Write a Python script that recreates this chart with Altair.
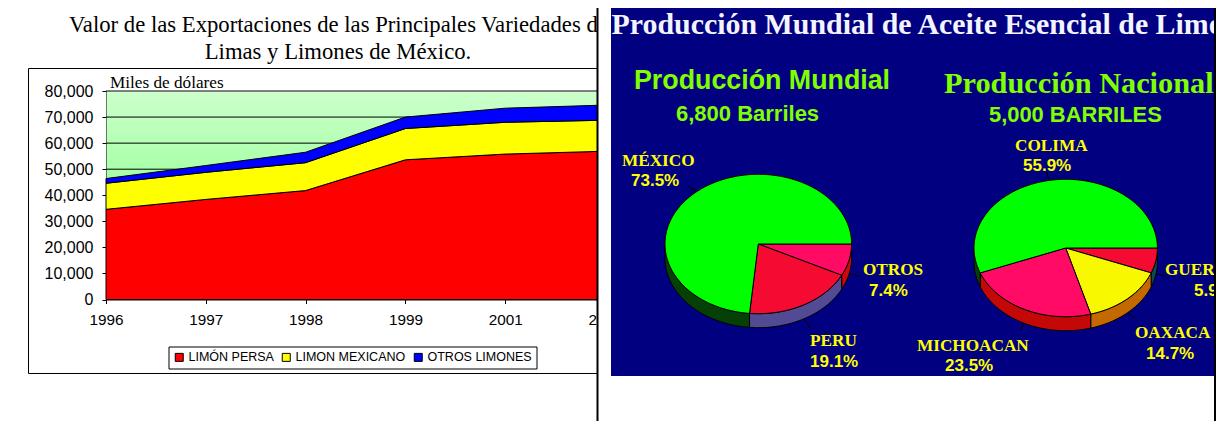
import math
import altair as alt

# ---- data ----
years = ["1996", "1997", "1998", "1999", "2001", "2002"]
persa = [34600, 38400, 41800, 53600, 55800, 56900]
mexicano = [10000, 10400, 10700, 12000, 12200, 11900]
otros = [1800, 2600, 4000, 4400, 5400, 5800]
series_names = ["LIMÓN PERSA", "LIMON MEXICANO", "OTROS LIMONES"]
series_colors = ["#ff0000", "#ffff00", "#0000ff"]
grid_values = [10000, 20000, 30000, 40000, 50000, 60000, 70000, 80000]

mundial_names = ["OTROS", "PERU", "MÉXICO"]
mundial_shares = [7.4, 19.1, 73.5]
mundial_top = ["#ff0a64", "#f50a32", "#00ff00"]
mundial_side = ["#cc0808", "#524a92", "#064006"]

nacional_names = ["GUERRERO", "OAXACA", "MICHOACAN", "COLIMA"]
nacional_shares = [5.9, 14.7, 23.5, 55.9]
nacional_top = ["#f50a32", "#f8f800", "#ff0a64", "#00ff00"]
nacional_side = ["#0c4a50", "#c46800", "#c40808", "#064006"]

W, H = 1208, 413
OX, OY = 8, 8
one = alt.Data(values=[{"a": 1}])


def rect(x1, y1, x2, y2, fill, stroke=None, sw=1):
    kw = {"fill": fill}
    if stroke:
        kw.update(stroke=stroke, strokeWidth=sw)
    return alt.Chart(one).mark_rect(**kw).encode(
        x=alt.value(x1 - OX), x2=alt.value(x2 - OX),
        y=alt.value(y1 - OY), y2=alt.value(y2 - OY))


def line(x1, y1, x2, y2):
    return alt.Chart(one).mark_rule(color="black", strokeWidth=1).encode(
        x=alt.value(x1 - OX), x2=alt.value(x2 - OX),
        y=alt.value(y1 - OY), y2=alt.value(y2 - OY))


def txt(s, x, y, size, color="black", font="Liberation Serif", weight="normal", align="left"):
    return alt.Chart(one).mark_text(
        font=font, fontSize=size, color=color, fontWeight=weight,
        align=align, baseline="middle").encode(
        x=alt.value(x - OX), y=alt.value(y - OY), text=alt.value(s))


SANS = "Liberation Sans"
SERIF = "Liberation Serif"
LIME = "#80ff00"
YEL = "#ffff00"

# ---- left chart ----
rows = []
for i, (name, vals) in enumerate(zip(series_names, [persa, mexicano, otros])):
    for y, v in zip(years, vals):
        rows.append({"year": y, "value": v, "series": name, "idx": i})

x_scale = alt.Scale(type="point", domain=years, range=[106 - OX, 605 - OX], padding=0)
y_scale = alt.Scale(domain=[0, 80000], range=[299.5 - OY, 91 - OY], nice=False)

plot_bg = alt.Chart(one).mark_rect(
    fill=alt.LinearGradient(gradient="linear", stops=[
        alt.GradientStop(offset=0, color="#ccffcc"),
        alt.GradientStop(offset=1, color="#70ff70")],
        x1=0, x2=0, y1=0, y2=1)
).encode(x=alt.value(106.5 - OX), x2=alt.value(597 - OX),
         y=alt.value(91.5 - OY), y2=alt.value(299.5 - OY))

grid = alt.Chart(alt.Data(values=[{"v": v} for v in grid_values])).mark_rule(
    color="black", strokeWidth=1).encode(
    y=alt.Y("v:Q", scale=y_scale, axis=None),
    x=alt.value(106 - OX), x2=alt.value(597 - OX))

axis_common = dict(labelFont=SANS, labelColor="black",
                   domainColor="black", tickColor="black", tickSize=4,
                   grid=False, title=None)

area = alt.Chart(alt.Data(values=rows)).mark_area(
    stroke="black", strokeWidth=1, interpolate="linear").encode(
    x=alt.X("year:O", scale=x_scale,
            axis=alt.Axis(labelAngle=0, offset=-(H - (299.5 - OY)), labelPadding=9,
                          labelFontSize=15.3, **axis_common)),
    y=alt.Y("value:Q", stack="zero", scale=y_scale,
            axis=alt.Axis(offset=-(106 - OX), format=",d", values=[0] + grid_values,
                          labelPadding=9, labelFontSize=16, **axis_common)),
    order=alt.Order("idx:Q"),
    color=alt.Color("series:N",
                    scale=alt.Scale(domain=series_names, range=series_colors),
                    legend=alt.Legend(
                        orient="none", legendX=168.5 - OX, legendY=346.5 - OY,
                        direction="horizontal", columns=3, title=None,
                        symbolType="square", symbolSize=64, symbolStrokeColor="black",
                        symbolStrokeWidth=1, fillColor="white", strokeColor="black",
                        padding=4.5, labelFont=SANS, labelFontSize=12.5, labelColor="black",
                        columnPadding=6, labelOffset=3)),
)


# ---- pies: ellipse outlines worked out from the shares ----
def ell(cx, cy, rx, ry, t):
    return [cx + rx * math.cos(t), cy + ry * math.sin(t)]


def sector_features(shares, tops, sides, cx, cy, rx, ry, depth):
    cx, cy = cx - OX, cy - OY
    feats = []
    start = 0.0
    spans = []
    for s in shares:
        end = start + s / sum(shares) * 2 * math.pi
        spans.append((start, end))
        start = end
    # walls first: only the front half of the rim is seen
    for (a, b), col in zip(spans, sides):
        lo, hi = max(a, 0.0), min(b, math.pi)
        if hi > lo:
            n = max(4, int((hi - lo) * 40))
            ts = [lo + (hi - lo) * i / n for i in range(n + 1)]
            ring = [ell(cx, cy, rx, ry, t) for t in ts]
            ring += [ell(cx, cy + depth, rx, ry, t) for t in reversed(ts)]
            ring.append(ring[0])
            feats.append({"type": "Feature", "properties": {"fill": col},
                          "geometry": {"type": "Polygon", "coordinates": [ring]}})
    for (a, b), col in zip(spans, tops):
        n = max(4, int((b - a) * 40))
        ring = [[cx, cy]] + [ell(cx, cy, rx, ry, a + (b - a) * i / n) for i in range(n + 1)] + [[cx, cy]]
        feats.append({"type": "Feature", "properties": {"fill": col},
                      "geometry": {"type": "Polygon", "coordinates": [ring]}})
    return feats


def pie(feats):
    return alt.Chart(alt.Data(values=feats)).mark_geoshape(
        stroke="black", strokeWidth=1).encode(
        color=alt.Color("properties.fill:N", scale=None)).project(type="identity", scale=1, translate=[0, 0])


pie_m = pie(sector_features(mundial_shares, mundial_top, mundial_side, 758.3, 244, 93.3, 69.7, 14))
pie_n = pie(sector_features(nacional_shares, nacional_top, nacional_side, 1065.7, 248, 91.7, 68.7, 14))

layers = [
    rect(28.5, 68.5, 620, 373.5, "transparent", "black"),
    plot_bg, grid, area,
    txt("Miles de dólares", 110, 83, 17.2),
    txt("Valor de las Exportaciones de las Principales Variedades de", 69, 25, 22.7),
    txt("Limas y Limones de México.", 338, 52, 22.7, align="center"),
    rect(597, 8, 611, 421, "white"),
    rect(611, 8, 1214, 376, "#000080"),
    rect(596.5, 8, 598.5, 421, "black"),
    txt("Producción Mundial de Aceite Esencial de Limón", 611.5, 25, 29.9, "#f4f4ff", SERIF, "bold"),
    txt("Producción Mundial", 634, 81, 26.8, LIME, SANS, "bold"),
    txt("6,800 Barriles", 676, 114, 22, LIME, SANS, "bold"),
    txt("Producción Nacional", 944, 84, 30.3, LIME, SERIF, "bold"),
    txt("5,000 BARRILES", 989, 115, 21.9, LIME, SANS, "bold"),
    line(688, 186, 696, 191.5), line(850, 274, 859, 276), line(805, 320, 810, 328),
    line(1046.7, 171.7, 1049, 180), line(1156, 274, 1166, 276),
    line(1128, 312.7, 1135, 319), line(1024, 323, 1020, 331),
    pie_m, pie_n,
    txt("MÉXICO", 622, 161, 17.2, YEL, SERIF, "bold"),
    txt("73.5%", 631, 181, 17, YEL, SANS, "bold"),
    txt("OTROS", 863, 270, 17.2, YEL, SERIF, "bold"),
    txt("7.4%", 869, 291, 17, YEL, SANS, "bold"),
    txt("PERU", 810, 341, 17.2, YEL, SERIF, "bold"),
    txt("19.1%", 810, 362, 17, YEL, SANS, "bold"),
    txt("COLIMA", 1015, 146, 17.2, YEL, SERIF, "bold"),
    txt("55.9%", 1023, 166, 17, YEL, SANS, "bold"),
    txt("GUERRERO", 1165, 270, 17.2, YEL, SERIF, "bold"),
    txt("5.9%", 1194, 291, 17, YEL, SANS, "bold"),
    txt("OAXACA", 1135, 333, 17.2, YEL, SERIF, "bold"),
    txt("14.7%", 1146, 354, 17, YEL, SANS, "bold"),
    txt("MICHOACAN", 917, 346, 17.2, YEL, SERIF, "bold"),
    txt("23.5%", 945, 366, 17, YEL, SANS, "bold"),
    rect(1214, 8, 1216, 421, "black"),
]

chart = alt.layer(*layers).resolve_scale(
    x="independent", y="independent", color="independent"
).properties(
    width=W, height=H, padding=0, autosize=alt.AutoSizeParams(type="none")
).configure_view(stroke=None)

chart.save("out.html", embed_options={"renderer": "svg", "actions": False})
